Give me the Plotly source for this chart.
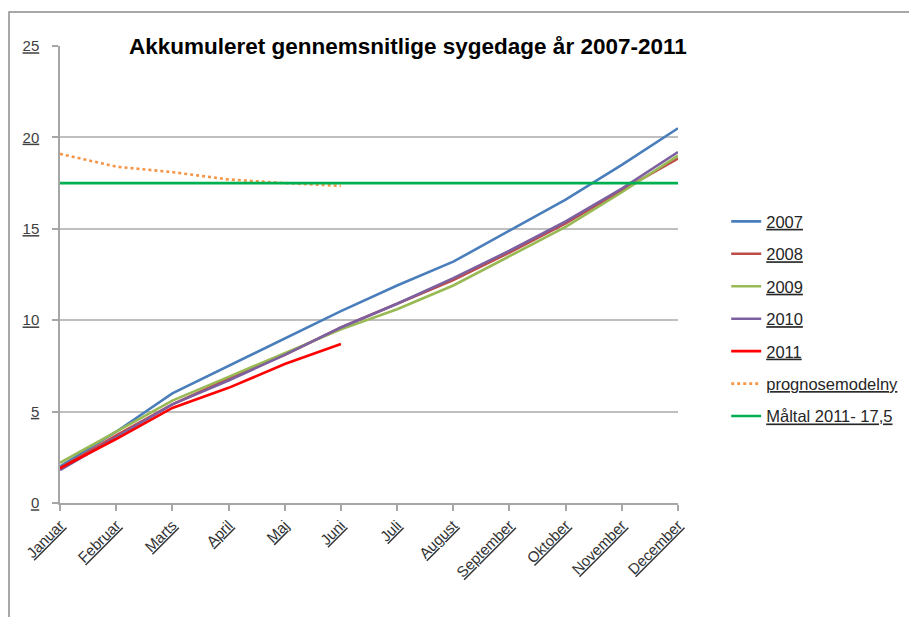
import plotly.graph_objects as go

months = ["Januar", "Februar", "Marts", "April", "Maj", "Juni", "Juli",
          "August", "September", "Oktober", "November", "December"]

y2007 = [2.0, 3.9, 6.0, 7.5, 9.0, 10.5, 11.9, 13.2, 14.9, 16.6, 18.5, 20.5]
y2008 = [1.9, 3.7, 5.4, 6.8, 8.1, 9.6, 10.9, 12.2, 13.7, 15.3, 17.1, 18.85]
y2009 = [2.2, 3.9, 5.6, 6.9, 8.2, 9.5, 10.6, 11.9, 13.5, 15.1, 17.0, 19.0]
y2010 = [1.8, 3.6, 5.4, 6.7, 8.1, 9.6, 10.9, 12.3, 13.8, 15.4, 17.2, 19.2]
y2011 = [1.9, 3.5, 5.2, 6.3, 7.6, 8.7]
prognose = [19.1, 18.4, 18.1, 17.7, 17.5, 17.35]
maltal = [17.5] * 12

series = [
    ("2007", months, y2007, "#4A7EBB", "solid"),
    ("2008", months, y2008, "#BE4B48", "solid"),
    ("2009", months, y2009, "#98B954", "solid"),
    ("2010", months, y2010, "#7D60A0", "solid"),
    ("2011", months[:6], y2011, "#FF0000", "solid"),
    ("prognosemodelny", months[:6], prognose, "#F79646", "dot"),
    ("Måltal 2011- 17,5", months, maltal, "#00B050", "solid"),
]

FONT = "Liberation Sans"
fig = go.Figure()
for name, xs, ys, col, dash in series:
    fig.add_trace(go.Scatter(
        x=xs, y=ys, name=name, mode="lines", legendgroup=name,
        line=dict(color=col, width=2.6, dash=dash),
    ))

fig.update_layout(
    width=917, height=617,
    paper_bgcolor="white", plot_bgcolor="white",
    margin=dict(l=52, r=247, t=38, b=122),
    showlegend=True,
    legend=dict(
        x=1.078, y=0.654, xanchor="left", yanchor="top",
        font=dict(family=FONT, size=16.5, color="#262626", lineposition="under"),
        tracegroupgap=8, traceorder="grouped",
        bgcolor="rgba(0,0,0,0)",
    ),
    xaxis=dict(
        type="category", categoryorder="array", categoryarray=months,
        range=[0, 11], showgrid=False, zeroline=False,
        showline=True, linecolor="#A6A6A6", linewidth=1.5,
        ticks="outside", ticklen=6, tickcolor="#A6A6A6", tickwidth=1.5,
        tickangle=-45,
        tickfont=dict(family=FONT, size=15, color="#333333", lineposition="under"),
    ),
    yaxis=dict(
        range=[0, 25], dtick=5, tick0=0,
        showgrid=True, gridcolor="#BFBFBF", gridwidth=1.5,
        zeroline=False, showline=True, linecolor="#A6A6A6", linewidth=1.5,
        ticks="outside", ticklen=6, tickcolor="#A6A6A6", tickwidth=1.5,
        ticklabelstandoff=10,
        tickfont=dict(family=FONT, size=15, color="#404040", lineposition="under"),
    ),
    shapes=[dict(
        type="rect", xref="paper", yref="paper",
        x0=-0.0825, x1=1.5, y0=-0.4, y1=1.0744,
        line=dict(color="#8C8C8C", width=1.5), fillcolor="rgba(0,0,0,0)",
        layer="below",
    )],
    annotations=[dict(
        text="<b>Akkumuleret gennemsnitlige sygedage år 2007-2011</b>",
        xref="paper", yref="paper", x=0.563, y=1.0, xanchor="center", yanchor="middle",
        showarrow=False, bgcolor="white", borderpad=3,
        font=dict(family=FONT, size=22.5, color="#000000"),
    )],
)

fig.write_html("out.html")
